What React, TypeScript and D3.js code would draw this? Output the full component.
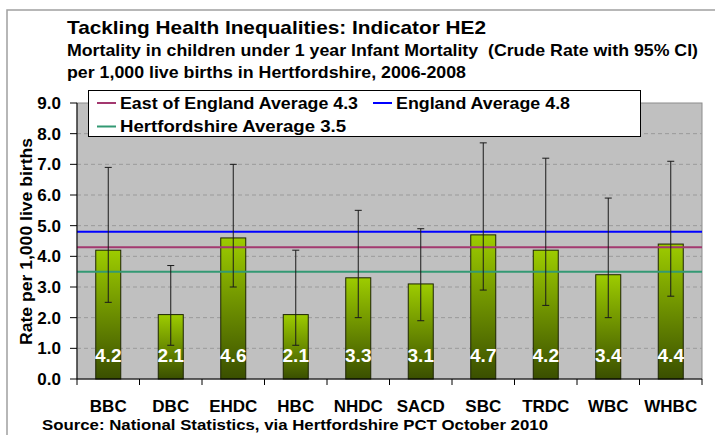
import React, { useRef, useEffect } from "react";
import * as d3 from "d3";

const categories = ["BBC", "DBC", "EHDC", "HBC", "NHDC", "SACD", "SBC", "TRDC", "WBC", "WHBC"];
const rates = [4.2, 2.1, 4.6, 2.1, 3.3, 3.1, 4.7, 4.2, 3.4, 4.4];
const lowerCI = [2.5, 1.1, 3.0, 1.1, 2.0, 1.9, 2.9, 2.4, 2.0, 2.7];
const upperCI = [6.9, 3.7, 7.0, 4.2, 5.5, 4.9, 7.7, 7.2, 5.9, 7.1];
const yTicks = [0, 1, 2, 3, 4, 5, 6, 7, 8, 9];
const averages = [
  { name: "East of England Average 4.3", value: 4.3, color: "#a3386f" },
  { name: "England Average 4.8", value: 4.8, color: "#0000ff" },
  { name: "Hertfordshire Average 3.5", value: 3.5, color: "#339973" },
];

const FONT = "'Liberation Sans', Arial, sans-serif";

const App = () => {
  const svgRef = useRef<SVGSVGElement>(null);
  const width = 715;
  const height = 435;
  const plot = { left: 77, right: 702, top: 103, bottom: 379 };

  useEffect(() => {
    const svg = d3.select(svgRef.current).attr("width", width).attr("height", height);
    const root = svg.append("g");

    const x = d3.scaleBand().domain(categories).range([plot.left, plot.right]).padding(0);
    const y = d3.scaleLinear().domain([0, 9]).range([plot.bottom, plot.top]);

    const defs = root.append("defs");
    const grad = defs
      .append("linearGradient")
      .attr("id", "barGrad")
      .attr("x1", 0)
      .attr("y1", 0)
      .attr("x2", 0)
      .attr("y2", 1);
    grad.append("stop").attr("offset", "0%").attr("stop-color", "#9dcc00");
    grad.append("stop").attr("offset", "100%").attr("stop-color", "#3a4f00");

    // outer frame
    root
      .append("rect")
      .attr("x", 7)
      .attr("y", 10)
      .attr("width", 720)
      .attr("height", 440)
      .attr("fill", "#fff")
      .attr("stroke", "#a0a0a0")
      .attr("stroke-width", 1.5);

    // titles
    const titles = [
      { text: "Tackling Health Inequalities: Indicator HE2", y: 34, size: 19, len: 419 },
      { text: "Mortality in children under 1 year Infant Mortality  (Crude Rate with 95% CI)", y: 56, size: 16.5, len: 631 },
      { text: "per 1,000 live births in Hertfordshire, 2006-2008", y: 78, size: 16.5, len: 399 },
    ];
    titles.forEach((t) => {
      root
        .append("text")
        .attr("x", 67)
        .attr("y", t.y)
        .attr("font-family", FONT)
        .attr("font-weight", "bold")
        .attr("font-size", t.size)
        .attr("textLength", t.len)
        .attr("lengthAdjust", "spacingAndGlyphs")
        .attr("xml:space", "preserve")
        .style("white-space", "pre")
        .text(t.text);
    });

    // plot background
    root
      .append("rect")
      .attr("x", plot.left)
      .attr("y", plot.top)
      .attr("width", plot.right - plot.left)
      .attr("height", plot.bottom - plot.top)
      .attr("fill", "#c0c0c0")
      .attr("stroke", "#8c8c8c")
      .attr("stroke-width", 1);

    // gridlines
    root
      .selectAll(".grid")
      .data(yTicks.filter((d) => d > 0 && d < 9))
      .enter()
      .append("line")
      .attr("x1", plot.left)
      .attr("x2", plot.right)
      .attr("y1", (d) => y(d))
      .attr("y2", (d) => y(d))
      .attr("stroke", "#9a9a9a")
      .attr("stroke-width", 1)
      .attr("stroke-dasharray", "4,3");

    // bars
    const barW = x.bandwidth() * 0.4;
    root
      .selectAll(".bar")
      .data(categories)
      .enter()
      .append("rect")
      .attr("x", (d) => x(d)! + x.bandwidth() / 2 - barW / 2)
      .attr("y", (d, i) => y(rates[i]))
      .attr("width", barW)
      .attr("height", (d, i) => y(0) - y(rates[i]))
      .attr("fill", "url(#barGrad)")
      .attr("stroke", "#1c2400")
      .attr("stroke-width", 1);

    // average lines
    averages.forEach((a) => {
      root
        .append("line")
        .attr("x1", plot.left)
        .attr("x2", plot.right)
        .attr("y1", y(a.value))
        .attr("y2", y(a.value))
        .attr("stroke", a.color)
        .attr("stroke-width", 2);
    });

    // error bars
    const eb = root.append("g").attr("stroke", "#1a1a1a").attr("stroke-width", 1);
    categories.forEach((c, i) => {
      const cx = x(c)! + x.bandwidth() / 2;
      eb.append("line").attr("x1", cx).attr("x2", cx).attr("y1", y(lowerCI[i])).attr("y2", y(upperCI[i]));
      [lowerCI[i], upperCI[i]].forEach((v) => {
        eb.append("line").attr("x1", cx - 3.5).attr("x2", cx + 3.5).attr("y1", y(v)).attr("y2", y(v));
      });
    });

    // value labels
    root
      .selectAll(".val")
      .data(categories)
      .enter()
      .append("text")
      .attr("x", (d) => x(d)! + x.bandwidth() / 2)
      .attr("y", plot.bottom - 17)
      .attr("text-anchor", "middle")
      .attr("font-family", FONT)
      .attr("font-weight", "bold")
      .attr("font-size", 19)
      .attr("fill", "#fff")
      .text((d, i) => rates[i].toFixed(1));

    // y axis
    root
      .append("line")
      .attr("x1", plot.left)
      .attr("x2", plot.left)
      .attr("y1", plot.top)
      .attr("y2", plot.bottom)
      .attr("stroke", "#000")
      .attr("stroke-width", 1);
    yTicks.forEach((t) => {
      root
        .append("line")
        .attr("x1", plot.left - 7)
        .attr("x2", plot.left)
        .attr("y1", y(t))
        .attr("y2", y(t))
        .attr("stroke", "#000");
      root
        .append("text")
        .attr("x", 61)
        .attr("y", y(t) + 6)
        .attr("text-anchor", "end")
        .attr("font-family", FONT)
        .attr("font-weight", "bold")
        .attr("font-size", 17)
        .text(t.toFixed(1));
    });
    root
      .append("text")
      .attr("transform", `translate(32,${(138 + 345) / 2}) rotate(-90)`)
      .attr("text-anchor", "middle")
      .attr("font-family", FONT)
      .attr("font-weight", "bold")
      .attr("font-size", 17)
      .attr("textLength", 207)
      .attr("lengthAdjust", "spacingAndGlyphs")
      .text("Rate per 1,000 live births");

    // x axis
    root
      .append("line")
      .attr("x1", plot.left)
      .attr("x2", plot.right)
      .attr("y1", plot.bottom)
      .attr("y2", plot.bottom)
      .attr("stroke", "#000");
    categories.concat([""]).forEach((c, i) => {
      const tx = plot.left + i * x.bandwidth();
      root
        .append("line")
        .attr("x1", tx)
        .attr("x2", tx)
        .attr("y1", plot.bottom)
        .attr("y2", plot.bottom + 6)
        .attr("stroke", "#000");
    });
    root
      .selectAll(".xl")
      .data(categories)
      .enter()
      .append("text")
      .attr("x", (d) => x(d)! + x.bandwidth() / 2)
      .attr("y", 412)
      .attr("text-anchor", "middle")
      .attr("font-family", FONT)
      .attr("font-weight", "bold")
      .attr("font-size", 17)
      .text((d) => d);

    // source
    root
      .append("text")
      .attr("x", 42)
      .attr("y", 430)
      .attr("font-family", FONT)
      .attr("font-weight", "bold")
      .attr("font-size", 15)
      .attr("textLength", 506)
      .attr("lengthAdjust", "spacingAndGlyphs")
      .text("Source: National Statistics, via Hertfordshire PCT October 2010");

    // legend
    const lg = root.append("g");
    lg.append("rect")
      .attr("x", 88.5)
      .attr("y", 90.5)
      .attr("width", 552)
      .attr("height", 46)
      .attr("fill", "#fff")
      .attr("stroke", "#000")
      .attr("stroke-width", 1);
    const legendPos = [
      { x: 97, y: 103, len: 238 },
      { x: 373, y: 103, len: 174 },
      { x: 97, y: 126.5, len: 226 },
    ];
    averages.forEach((a, i) => {
      const p = legendPos[i];
      lg.append("line")
        .attr("x1", p.x)
        .attr("x2", p.x + 19)
        .attr("y1", p.y)
        .attr("y2", p.y)
        .attr("stroke", a.color)
        .attr("stroke-width", 2);
      lg.append("text")
        .attr("x", p.x + 23)
        .attr("y", p.y + 5.5)
        .attr("font-family", FONT)
        .attr("font-weight", "bold")
        .attr("font-size", 16.5)
        .attr("textLength", p.len)
        .attr("lengthAdjust", "spacingAndGlyphs")
        .text(a.name);
    });

    return () => {
      root.remove();
    };
  }, []);

  return <svg ref={svgRef} style={{ position: "absolute", left: 0, top: 0 }} />;
};

export default App;
